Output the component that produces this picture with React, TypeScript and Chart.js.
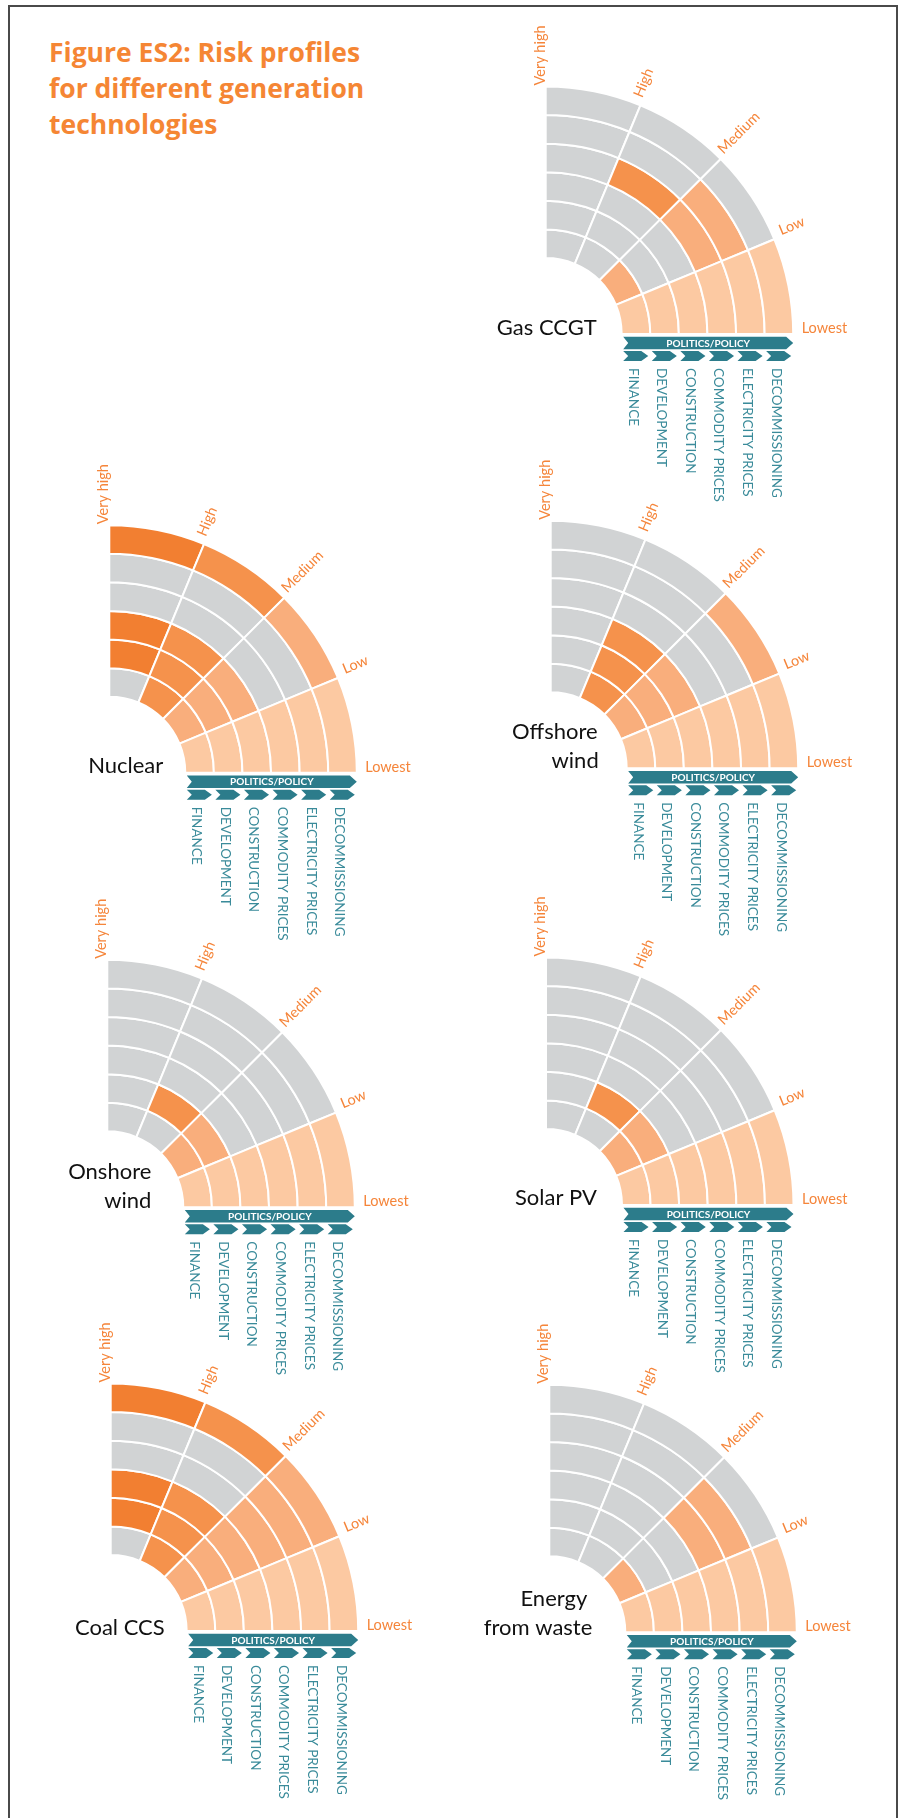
import React, { useEffect, useRef } from "react";
import { Chart, registerables } from "chart.js";

Chart.register(...registerables);

// Risk scale: a category's value is the boundary its fill reaches
const LEVELS = ["Lowest", "Low", "Medium", "High", "Very high"];

// Rings, innermost first
const RISK_CATEGORIES = [
  "FINANCE",
  "DEVELOPMENT",
  "CONSTRUCTION",
  "COMMODITY PRICES",
  "ELECTRICITY PRICES",
  "DECOMMISSIONING",
];

const BAND_LABEL = "POLITICS/POLICY";
const TITLE = ["Figure ES2: Risk profiles", "for different generation", "technologies"];

// Risk level per category (index into LEVELS), innermost ring first
const GAS_CCGT = [2, 1, 1, 3, 2, 1];
const NUCLEAR = [3, 4, 4, 1, 1, 4];
const OFFSHORE_WIND = [3, 3, 3, 1, 1, 2];
const ONSHORE_WIND = [2, 3, 1, 1, 1, 1];
const SOLAR_PV = [2, 3, 1, 1, 1, 1];
const COAL_CCS = [3, 4, 4, 2, 2, 4];
const ENERGY_FROM_WASTE = [2, 1, 1, 2, 2, 1];

const TECH_NAMES = [
  ["Gas CCGT"],
  ["Nuclear"],
  ["Offshore", "wind"],
  ["Onshore", "wind"],
  ["Solar PV"],
  ["Coal CCS"],
  ["Energy", "from waste"],
];
const TECH_LEVELS = [
  GAS_CCGT,
  NUCLEAR,
  OFFSHORE_WIND,
  ONSHORE_WIND,
  SOLAR_PV,
  COAL_CCS,
  ENERGY_FROM_WASTE,
];

// Where each quarter-circle's centre sits on the page, and where its name ends
const PANEL_LAYOUT = [
  { cx: 545.7, cy: 334, nameRight: [51], nameDy: 1 },
  { cx: 109.3, cy: 772.7, nameRight: [54], nameDy: 0 },
  { cx: 550.7, cy: 768.3, nameRight: [47, 48], nameDy: 0 },
  { cx: 107.3, cy: 1207.3, nameRight: [44, 44], nameDy: 1 },
  { cx: 546, cy: 1205, nameRight: [51], nameDy: 0 },
  { cx: 110.7, cy: 1631, nameRight: [54], nameDy: 4 },
  { cx: 549.3, cy: 1632.3, nameRight: [38, 43], nameDy: 3 },
];

const OUTER_RADIUS = 247.5;
const CUTOUT = "30.7%";
const CANVAS_W = 450;
const CANVAS_H = 510;
const ORIGIN_X = 115; // centre offset inside the canvas
const ORIGIN_Y = 330;

const GRAY = "#d1d3d4";
// fill of the Lowest, Low, Medium and High sectors
const SECTOR_FILL = ["#fcc9a2", "#f9ae7c", "#f5924c", "#f27f31"];
const ORANGE_TEXT = "#f5853a";
const TEAL = "#2c7c8b";
const TEAL_TEXT = "#3a8b9a";
const FONT = "Lato, 'Open Sans', sans-serif";
const TITLE_FONT = "'Open Sans', Lato, sans-serif";

// distance past the outer rim at which each level label begins
const LABEL_GAP = [8.5, 8, 5, 7, 1];

const panelDecor = {
  id: "panelDecor",
  afterDraw(chart: any) {
    const opts = chart.options.plugins.panelDecor;
    const ctx: CanvasRenderingContext2D = chart.ctx;
    const n = chart.data.datasets.length;
    const outerArcs = chart.getDatasetMeta(0).data as any[];
    const innerArc = chart.getDatasetMeta(n - 1).data[0] as any;
    const cx = outerArcs[0].x;
    const cy = outerArcs[0].y;
    const R = outerArcs[0].outerRadius;
    const r0 = innerArc.innerRadius;

    ctx.save();

    // level labels along the sector boundaries
    ctx.fillStyle = ORANGE_TEXT;
    ctx.font = `14.5px ${FONT}`;
    ctx.textAlign = "left";
    ctx.textBaseline = "alphabetic";
    LEVELS.forEach((label, i) => {
      const k = outerArcs.length;
      const angle = i === LEVELS.length - 1 ? outerArcs[0].startAngle : outerArcs[k - 1 - i].endAngle;
      ctx.save();
      ctx.translate(cx, cy);
      ctx.rotate(angle);
      ctx.fillText(label, R + LABEL_GAP[i], -1);
      ctx.restore();
    });

    // technology name
    ctx.fillStyle = "#111";
    ctx.font = `22px ${FONT}`;
    ctx.textAlign = "right";
    const lines: string[] = opts.name;
    lines.forEach((line, i) => {
      const y = cy + opts.nameDy - (lines.length - 1 - i) * 29;
      ctx.fillText(line, cx + opts.nameRight[i], y);
    });

    // politics/policy band spanning all rings
    const bandTop = cy + 2.7;
    const bandH = 12.6;
    const x0 = cx + r0 + 1.5;
    const x1 = cx + R;
    ctx.fillStyle = TEAL;
    ctx.beginPath();
    ctx.moveTo(x0, bandTop);
    ctx.lineTo(x1 - 7, bandTop);
    ctx.lineTo(x1, bandTop + bandH / 2);
    ctx.lineTo(x1 - 7, bandTop + bandH);
    ctx.lineTo(x0, bandTop + bandH);
    ctx.lineTo(x0 + 5, bandTop + bandH / 2);
    ctx.closePath();
    ctx.fill();
    ctx.fillStyle = "#fff";
    ctx.font = `bold 10px ${FONT}`;
    ctx.textAlign = "center";
    ctx.textBaseline = "middle";
    ctx.fillText(BAND_LABEL, (x0 + x1) / 2, bandTop + bandH / 2 + 0.5);

    // one chevron and one label per ring
    const chevTop = cy + 17;
    const chevH = 10;
    for (let k = 0; k < n; k++) {
      const arc = chart.getDatasetMeta(n - 1 - k).data[0] as any;
      const ri = arc.innerRadius;
      const ro = arc.outerRadius;
      const a = cx + ri + 1.5;
      const b = cx + ro - 2;
      ctx.fillStyle = TEAL;
      ctx.beginPath();
      ctx.moveTo(a, chevTop);
      ctx.lineTo(b - 7, chevTop);
      ctx.lineTo(b, chevTop + chevH / 2);
      ctx.lineTo(b - 7, chevTop + chevH);
      ctx.lineTo(a, chevTop + chevH);
      ctx.lineTo(a + 5, chevTop + chevH / 2);
      ctx.closePath();
      ctx.fill();

      ctx.save();
      ctx.translate(cx + (ri + ro) / 2 - 7.3, cy + 34);
      ctx.rotate(Math.PI / 2);
      ctx.fillStyle = TEAL_TEXT;
      ctx.font = `13.5px ${FONT}`;
      ctx.textAlign = "left";
      ctx.textBaseline = "alphabetic";
      ctx.fillText(RISK_CATEGORIES[k], 0, 0);
      ctx.restore();
    }

    ctx.restore();
  },
};

function RiskPanel({ index }: { index: number }) {
  const ref = useRef<HTMLCanvasElement>(null);
  const layout = PANEL_LAYOUT[index];
  const left = Math.round(layout.cx - ORIGIN_X);
  const top = Math.round(layout.cy - ORIGIN_Y);

  useEffect(() => {
    const canvas = ref.current;
    if (!canvas) return;
    const levels = TECH_LEVELS[index];
    const localX = layout.cx - left;
    const localY = layout.cy - top;
    const side = OUTER_RADIUS + 4;
    const padLeft = localX - 2;
    const padTop = localY - OUTER_RADIUS - 2;

    // sectors run clockwise from the top: High, Medium, Low, Lowest
    const sectorOrder = [3, 2, 1, 0];
    const datasets = RISK_CATEGORIES.map((cat, k) => ({
      label: cat,
      data: sectorOrder.map(() => 1),
      backgroundColor: sectorOrder.map((s) => (s < levels[k] ? SECTOR_FILL[s] : GRAY)),
      borderColor: "#ffffff",
      borderWidth: 2,
    })).reverse(); // first dataset is drawn as the outer ring

    const chart = new Chart(canvas, {
      type: "doughnut",
      data: {
        labels: sectorOrder.map((s) => LEVELS[s]),
        datasets,
      },
      options: {
        responsive: false,
        animation: false,
        events: [],
        rotation: 0,
        circumference: 90,
        cutout: CUTOUT,
        radius: OUTER_RADIUS,
        layout: {
          padding: {
            left: padLeft,
            top: padTop,
            right: CANVAS_W - padLeft - side,
            bottom: CANVAS_H - padTop - side,
          },
        },
        plugins: {
          legend: { display: false },
          tooltip: { enabled: false },
          panelDecor: {
            name: TECH_NAMES[index],
            nameRight: layout.nameRight,
            nameDy: layout.nameDy,
          },
        } as any,
      },
      plugins: [panelDecor],
    } as any);
    return () => chart.destroy();
  }, [index]);

  return (
    <canvas
      ref={ref}
      width={CANVAS_W}
      height={CANVAS_H}
      style={{ position: "absolute", left, top, width: CANVAS_W, height: CANVAS_H }}
    />
  );
}

export default function App() {
  return (
    <div
      style={{
        position: "absolute",
        left: 0,
        top: 0,
        width: 901,
        height: 1818,
        overflow: "hidden",
        background: "#fff",
      }}
    >
      <div
        style={{
          position: "absolute",
          left: 8,
          top: 5,
          width: 886,
          height: 1900,
          border: "2px solid #4a4a4a",
          borderBottom: "none",
        }}
      />
      <div
        style={{
          position: "absolute",
          left: 49,
          top: 34,
          fontFamily: TITLE_FONT,
          fontWeight: 700,
          fontSize: 26.5,
          lineHeight: "36px",
          color: "#f58634",
          whiteSpace: "nowrap",
        }}
      >
        {TITLE.map((t, i) => (
          <div key={i}>{t}</div>
        ))}
      </div>
      {TECH_LEVELS.map((_, i) => (
        <RiskPanel key={i} index={i} />
      ))}
    </div>
  );
}
